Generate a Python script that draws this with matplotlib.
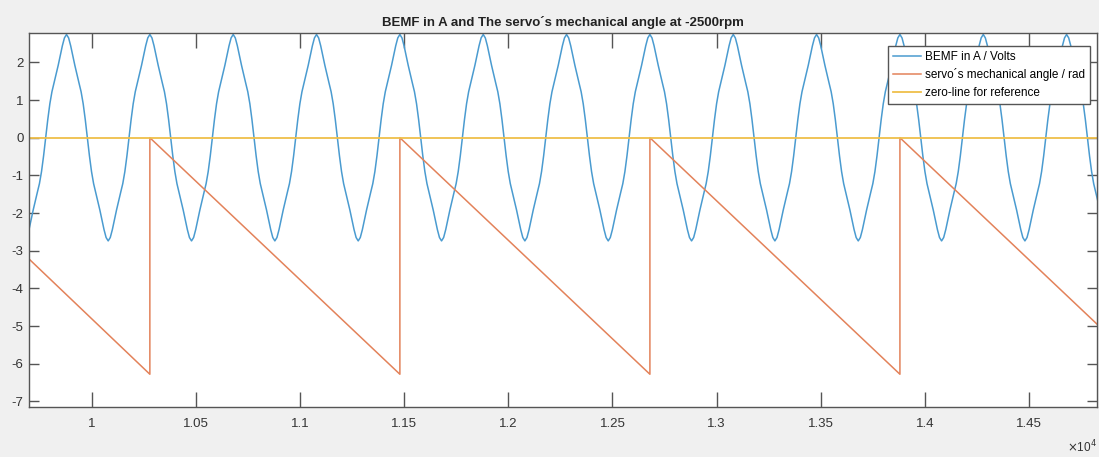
import numpy as np
import matplotlib
matplotlib.use("Agg")
import matplotlib.pyplot as plt
from matplotlib.ticker import FuncFormatter

plt.rcParams['font.family'] = ['Liberation Sans', 'DejaVu Sans']
plt.rcParams['axes.unicode_minus'] = False

# ---------------- data ----------------
# BEMF, one half cycle from peak down to trough, sampled every 10 samples
bemf_half = [2.74, 2.65, 2.44, 2.18, 1.92, 1.68, 1.45, 1.22, 0.90, 0.48, 0.0,
             -0.48, -0.90, -1.22, -1.45, -1.68, -1.92, -2.18, -2.44, -2.65, -2.74]
bemf_step = 10
# sample index of each BEMF peak
bemf_peaks = [9480, 9880, 10280, 10680, 11080, 11480, 11880, 12280, 12680,
              13080, 13480, 13880, 14280, 14680]

# mechanical angle (rad), sawtooth vertices
angle_t = [9700, 10280, 10280, 11480, 11480, 12680, 12680, 13880, 13880, 14826]
angle_v = [-3.22, -6.28, 0.0, -6.28, 0.0, -6.28, 0.0, -6.28, 0.0, -4.95]

zero_t = [9700, 14826]
zero_v = [0.0, 0.0]

xticks = [10000, 10500, 11000, 11500, 12000, 12500, 13000, 13500, 14000, 14500]
yticks = [-7, -6, -5, -4, -3, -2, -1, 0, 1, 2]

# build the BEMF trace: falling half then rising half, repeated at each peak
cycle = bemf_half + bemf_half[::-1][1:-1]
offsets = np.arange(len(cycle)) * bemf_step
bemf_t = np.concatenate([p + offsets for p in bemf_peaks])
bemf_v = np.tile(cycle, len(bemf_peaks))

# ---------------- plot ----------------
fig = plt.figure(figsize=(10.99, 4.57), dpi=100, facecolor='#f0f0f0')
ax = fig.add_axes([0.0264, 0.1094, 0.9718, 0.8184])

ax.plot(bemf_t, bemf_v, color='#4a9bd0', lw=1.1, label='BEMF in A / Volts')
ax.plot(angle_t, angle_v, color='#e3825a', lw=1.1, label='servo´s mechanical angle / rad')
ax.plot(zero_t, zero_v, color='#efbf4a', lw=1.3, label='zero-line for reference')

ax.set_xlim(9700, 14826)
ax.set_ylim(-7.15, 2.78)
ax.set_xticks(xticks)
ax.set_yticks(yticks)
ax.xaxis.set_major_formatter(FuncFormatter(lambda v, pos: '%g' % (v / 1e4)))

ax.tick_params(axis='x', direction='in', length=11, width=1, color='#555555',
               top=True, labelsize=9.5, pad=8, labelcolor='#333333')
ax.tick_params(axis='y', direction='in', length=7.5, width=1, color='#555555',
               right=True, labelsize=9.5, pad=4, labelcolor='#333333')
for s in ax.spines.values():
    s.set_color('#555555')
    s.set_linewidth(1.0)

ax.set_title('BEMF in A and The servo´s mechanical angle at -2500rpm',
             fontsize=9.5, fontweight='bold', pad=5, color='#222222')
ax.text(1.0, -0.085, r'$\times$10$^{4}$', transform=ax.transAxes,
        ha='right', va='top', fontsize=8.5, color='#333333')

leg = ax.legend(loc='upper right', bbox_to_anchor=(0.9935, 0.966), fontsize=8.5,
                frameon=True, fancybox=False, framealpha=1, edgecolor='#555555',
                handlelength=2.4, handletextpad=0.3, borderpad=0.45, labelspacing=0.45,
                borderaxespad=0)
leg.get_frame().set_linewidth(1.0)

fig.savefig('out.png', dpi=100, facecolor=fig.get_facecolor())
